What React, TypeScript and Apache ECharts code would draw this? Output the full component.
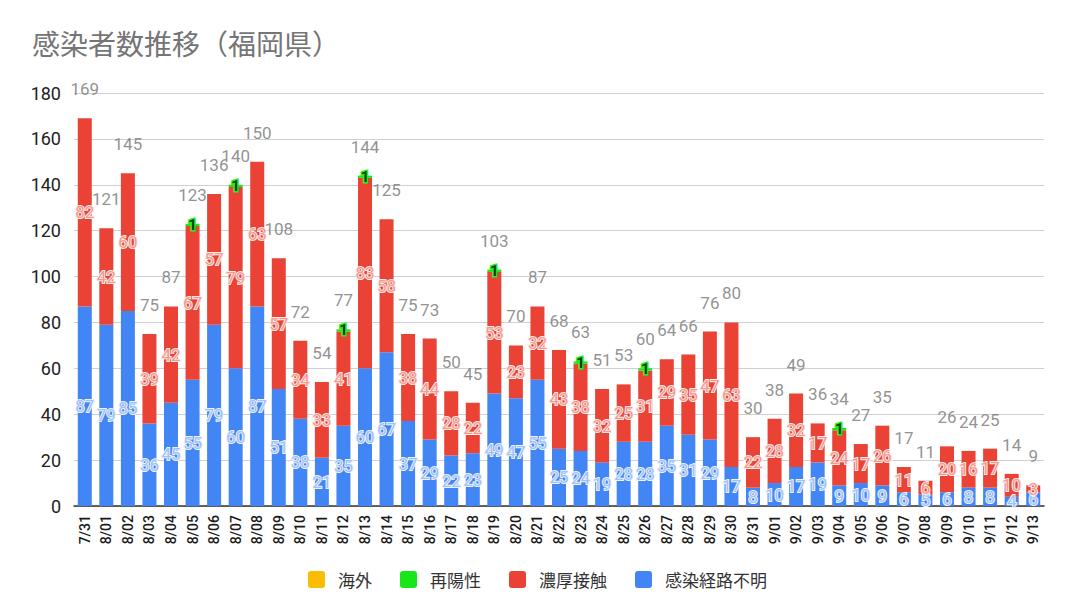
import React, { useEffect, useRef } from "react";
import * as echarts from "echarts";

const categories = [
  "7/31", "8/01", "8/02", "8/03", "8/04", "8/05", "8/06", "8/07", "8/08", "8/09",
  "8/10", "8/11", "8/12", "8/13", "8/14", "8/15", "8/16", "8/17", "8/18", "8/19",
  "8/20", "8/21", "8/22", "8/23", "8/24", "8/25", "8/26", "8/27", "8/28", "8/29",
  "8/30", "8/31", "9/01", "9/02", "9/03", "9/04", "9/05", "9/06", "9/07", "9/08",
  "9/09", "9/10", "9/11", "9/12", "9/13",
];

// 感染経路不明
const unknownRoute = [
  87, 79, 85, 36, 45, 55, 79, 60, 87, 51,
  38, 21, 35, 60, 67, 37, 29, 22, 23, 49,
  47, 55, 25, 24, 19, 28, 28, 35, 31, 29,
  17, 8, 10, 17, 19, 9, 10, 9, 6, 5,
  6, 8, 8, 4, 6,
];

// 濃厚接触
const closeContact = [
  82, 42, 60, 39, 42, 67, 57, 79, 63, 57,
  34, 33, 41, 83, 58, 38, 44, 28, 22, 53,
  23, 32, 43, 38, 32, 25, 31, 29, 35, 47,
  63, 22, 28, 32, 17, 24, 17, 26, 11, 6,
  20, 16, 17, 10, 3,
];

// 再陽性
const rePositive = [
  0, 0, 0, 0, 0, 1, 0, 1, 0, 0,
  0, 0, 1, 1, 0, 0, 0, 0, 0, 1,
  0, 0, 0, 1, 0, 0, 1, 0, 0, 0,
  0, 0, 0, 0, 0, 1, 0, 0, 0, 0,
  0, 0, 0, 0, 0,
];

// 海外
const overseas = [
  0, 0, 0, 0, 0, 0, 0, 0, 0, 0,
  0, 0, 0, 0, 0, 0, 0, 0, 0, 0,
  0, 0, 0, 0, 0, 0, 0, 0, 0, 0,
  0, 0, 0, 0, 0, 0, 0, 0, 0, 0,
  0, 0, 0, 0, 0,
];

const yTicks = { min: 0, max: 180, interval: 20 };

const seriesNames = ["海外", "再陽性", "濃厚接触", "感染経路不明"];

const FONT_NUM = "Roboto, Arial, 'Noto Sans CJK JP', sans-serif";
const FONT_JP = "'Noto Sans CJK JP', 'Noto Sans', sans-serif";

const ICON =
  "path://M3,0 H14 Q17,0 17,3 V14 Q17,17 14,17 H3 Q0,17 0,14 V3 Q0,0 3,0 Z";

export default function App() {
  const ref = useRef<HTMLDivElement>(null);

  useEffect(() => {
    if (!ref.current) return;
    const chart = echarts.init(ref.current, undefined, { renderer: "svg" });

    const totals = categories.map(
      (_, i) => unknownRoute[i] + closeContact[i] + rePositive[i] + overseas[i]
    );

    const option: any = {
      animation: false,
      backgroundColor: "#ffffff",
      title: {
        text: "感染者数推移（福岡県）",
        left: 27,
        top: 24,
        textStyle: {
          fontFamily: FONT_JP,
          fontSize: 28,
          fontWeight: "normal",
          color: "#757575",
        },
      },
      legend: {
        data: seriesNames,
        left: 303,
        top: 566,
        itemWidth: 17,
        itemHeight: 17,
        itemGap: 28,
        icon: ICON,
        textStyle: {
          fontFamily: FONT_JP,
          fontSize: 17,
          color: "#333333",
          padding: [0, 0, 0, 8],
        },
      },
      grid: {
        left: 74,
        right: 34,
        top: 93,
        bottom: 103,
        containLabel: false,
      },
      xAxis: {
        type: "category",
        data: categories,
        axisTick: { show: false },
        axisLine: { lineStyle: { color: "#333333", width: 1.5 } },
        axisLabel: {
          rotate: 90,
          interval: 0,
          fontSize: 14,
          fontWeight: 500,
          color: "#1a1a1a",
          margin: 9,
          fontFamily: FONT_NUM,
        },
      },
      yAxis: {
        type: "value",
        min: yTicks.min,
        max: yTicks.max,
        interval: yTicks.interval,
        axisLine: { show: false },
        axisTick: { show: false },
        splitLine: { lineStyle: { color: "#d0d0d0", width: 1 } },
        axisLabel: {
          fontSize: 18,
          color: "#222222",
          margin: 13,
          fontFamily: FONT_NUM,
        },
      },
      series: [
        {
          name: "感染経路不明",
          type: "bar",
          stack: "total",
          barWidth: 14,
          data: unknownRoute,
          itemStyle: { color: "#4285f4" },
          label: {
            show: true,
            position: "inside",
            fontSize: 17,
            fontFamily: FONT_NUM,
            color: "#a0c0f8",
            textBorderColor: "#eef4ff",
            textBorderWidth: 2,
          },
        },
        {
          name: "濃厚接触",
          type: "bar",
          stack: "total",
          barWidth: 14,
          data: closeContact,
          itemStyle: { color: "#ea4335" },
          label: {
            show: true,
            position: "inside",
            fontSize: 17,
            fontFamily: FONT_NUM,
            color: "#f39a91",
            textBorderColor: "#fdecea",
            textBorderWidth: 2,
          },
        },
        {
          name: "再陽性",
          type: "bar",
          stack: "total",
          barWidth: 14,
          data: rePositive,
          itemStyle: { color: "#19e619" },
          label: {
            show: true,
            position: "inside",
            fontSize: 15,
            fontWeight: "bold",
            fontFamily: FONT_NUM,
            color: "#0b3d0b",
            textBorderColor: "#22ee22",
            textBorderWidth: 3,
            formatter: (p: any) => (p.value > 0 ? String(p.value) : ""),
          },
        },
        {
          name: "海外",
          type: "bar",
          stack: "total",
          barWidth: 14,
          data: overseas,
          itemStyle: { color: "#fbbc04" },
          label: {
            show: true,
            position: "inside",
            fontSize: 15,
            fontFamily: FONT_NUM,
            color: "#7a5a00",
            formatter: (p: any) => (p.value > 0 ? String(p.value) : ""),
          },
        },
        {
          name: "合計",
          type: "scatter",
          data: totals,
          symbolSize: 1,
          itemStyle: { color: "rgba(0,0,0,0)" },
          silent: true,
          label: {
            show: true,
            position: "top",
            distance: 20,
            fontSize: 17,
            fontFamily: FONT_NUM,
            color: "#757575",
          },
          z: 5,
        },
      ],
    };

    chart.setOption(option);
    return () => {
      chart.dispose();
    };
  }, []);

  return (
    <div
      ref={ref}
      style={{ position: "fixed", left: 0, top: 0, width: 1078, height: 609 }}
    />
  );
}
